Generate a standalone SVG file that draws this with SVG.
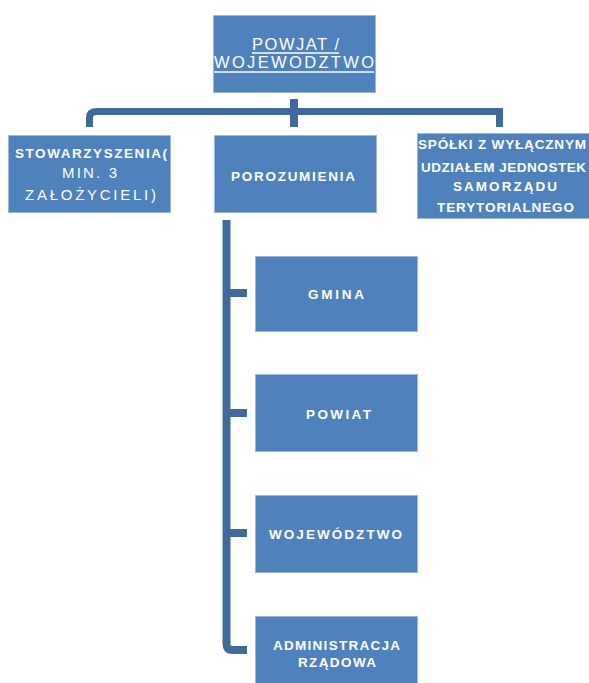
<svg xmlns="http://www.w3.org/2000/svg" width="589" height="683" viewBox="0 0 589 683">
<style>
.box{fill:#4F81BD;stroke:#9DB7D9;stroke-width:1}
.con{fill:none;stroke:#41699C;stroke-linecap:butt}
.b{font-family:"Liberation Sans",Arial,sans-serif;font-weight:bold;font-size:13.5px;fill:#FFFFFF}
.n{font-family:"Liberation Sans",Arial,sans-serif;font-weight:normal;font-size:15px;fill:#FFFFFF}
.t{font-family:"Liberation Sans",Arial,sans-serif;font-weight:normal;font-size:16.5px;fill:#FFFFFF}
.u{stroke:#FFFFFF;stroke-width:1.3}
</style>
<rect width="589" height="683" fill="#FFFFFF"/>
<g id="connectors">
<line class="con" x1="294" y1="99" x2="294" y2="127" stroke-width="8"/>
<path class="con" d="M89.5 127 V118 Q89.5 111.5 96 111.5 H499.5 V127" stroke-width="7" stroke-linejoin="miter"/>
<path class="con" d="M226.5 220 V644 Q226.5 650 233 650 H247" stroke-width="8"/>
<line class="con" x1="226.5" y1="293" x2="247" y2="293" stroke-width="8"/>
<line class="con" x1="226.5" y1="413" x2="247" y2="413" stroke-width="8"/>
<line class="con" x1="226.5" y1="533" x2="247" y2="533" stroke-width="8"/>
</g>
<g id="powiat-wojewodztwo">
<rect class="box" x="213.5" y="15.5" width="162" height="77"/>
<text class="t" x="252" y="50" textLength="87" lengthAdjust="spacing">POWJAT /</text>
<text class="t" x="214" y="68" textLength="160" lengthAdjust="spacing">WOJEWODZTWO</text>
<line class="u" x1="252" y1="53" x2="339" y2="53"/>
<line class="u" x1="214" y1="72" x2="374" y2="72"/>
</g>
<g id="stowarzyszenia">
<rect class="box" x="8.5" y="135.5" width="162" height="77"/>
<text class="b" x="15" y="158" textLength="152" lengthAdjust="spacing">STOWARZYSZENIA(</text>
<text class="n" x="62" y="178" textLength="55" lengthAdjust="spacing">MIN. 3</text>
<text class="n" x="25" y="200" textLength="131" lengthAdjust="spacing">ZAŁOŻYCIELI)</text>
</g>
<g id="porozumienia">
<rect class="box" x="214.5" y="135.5" width="162" height="77"/>
<text class="b" x="231" y="181" textLength="124" lengthAdjust="spacing">POROZUMIENIA</text>
</g>
<g id="spolki">
<rect class="box" x="417.5" y="133.5" width="180" height="85"/>
<text class="b" x="418" y="149" textLength="168" lengthAdjust="spacing">SPÓŁKI Z WYŁĄCZNYM</text>
<text class="b" x="421" y="172" textLength="165" lengthAdjust="spacing">UDZIAŁEM JEDNOSTEK</text>
<text class="b" x="453" y="191" textLength="104" lengthAdjust="spacing">SAMORZĄDU</text>
<text class="b" x="437" y="212" textLength="137" lengthAdjust="spacing">TERYTORIALNEGO</text>
</g>
<g id="gmina">
<rect class="box" x="255.5" y="256.5" width="162" height="75"/>
<text class="b" x="308" y="299" textLength="56" lengthAdjust="spacing">GMINA</text>
</g>
<g id="powiat">
<rect class="box" x="255.5" y="374.5" width="162" height="77"/>
<text class="b" x="306" y="419" textLength="65" lengthAdjust="spacing">POWIAT</text>
</g>
<g id="wojewodztwo">
<rect class="box" x="255.5" y="495.5" width="162" height="77"/>
<text class="b" x="269" y="539" textLength="133" lengthAdjust="spacing">WOJEWÓDZTWO</text>
</g>
<g id="administracja">
<rect class="box" x="255.5" y="616.5" width="162" height="77"/>
<text class="b" x="273" y="650" textLength="127" lengthAdjust="spacing">ADMINISTRACJA</text>
<text class="b" x="298" y="667" textLength="78" lengthAdjust="spacing">RZĄDOWA</text>
</g>
</svg>
